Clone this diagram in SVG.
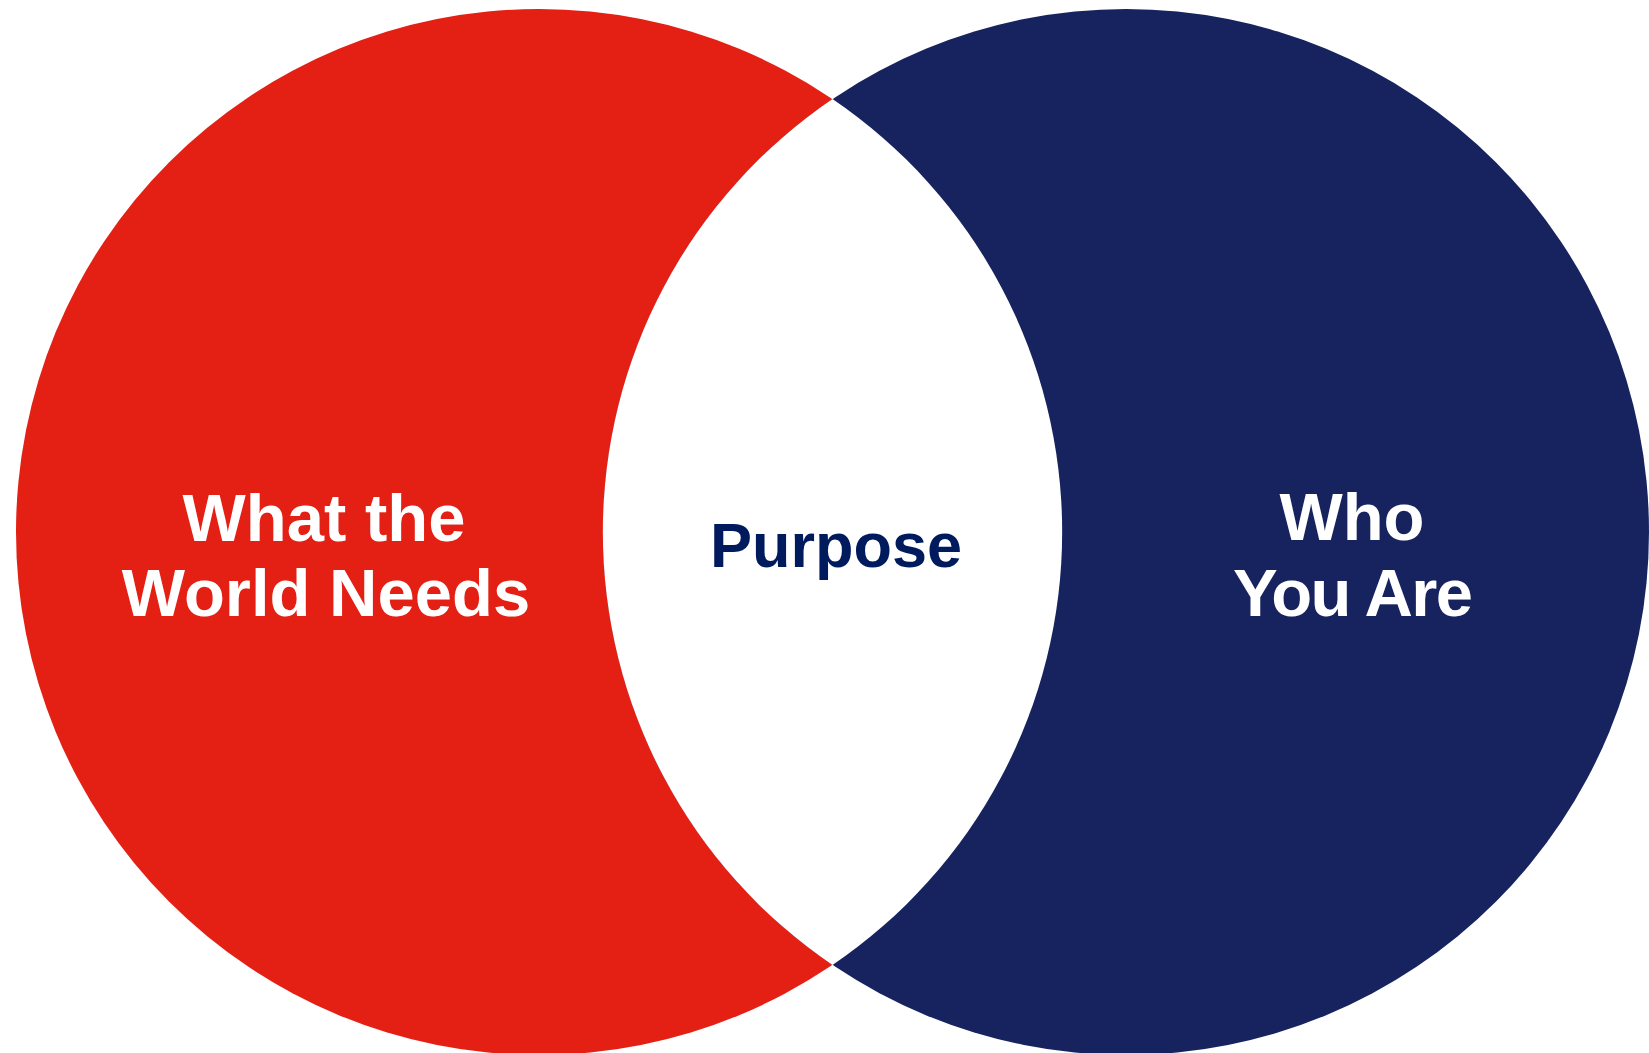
<svg xmlns="http://www.w3.org/2000/svg" width="1649" height="1053" viewBox="0 0 1649 1053">
<style>
.lbl{font-family:"Liberation Sans",Arial,sans-serif;font-weight:bold;text-anchor:middle}
.w{fill:#ffffff;font-size:67px}
.p{fill:#001A5E;font-size:63px}
</style>
<rect width="1649" height="1053" fill="#ffffff"/>
<g id="world-needs">
<circle cx="539" cy="532" r="523" fill="#E41F14"/>
</g>
<g id="who-you-are">
<circle cx="1126" cy="532" r="523" fill="#16235E"/>
</g>
<g id="purpose">
<path d="M832.5 99 A523 523 0 0 1 832.5 965 A523 523 0 0 1 832.5 99 Z" fill="#ffffff"/>
</g>
<g id="connectors"></g>
<g id="labels">
<text class="lbl w" x="324" y="541">What the</text>
<text class="lbl w" x="326" y="616">World Needs</text>
<text class="lbl p" x="836" y="567">Purpose</text>
<text class="lbl w" x="1352" y="540">Who</text>
<text class="lbl w" x="1353" y="616" textLength="240" lengthAdjust="spacing">You Are</text>
</g>
</svg>
